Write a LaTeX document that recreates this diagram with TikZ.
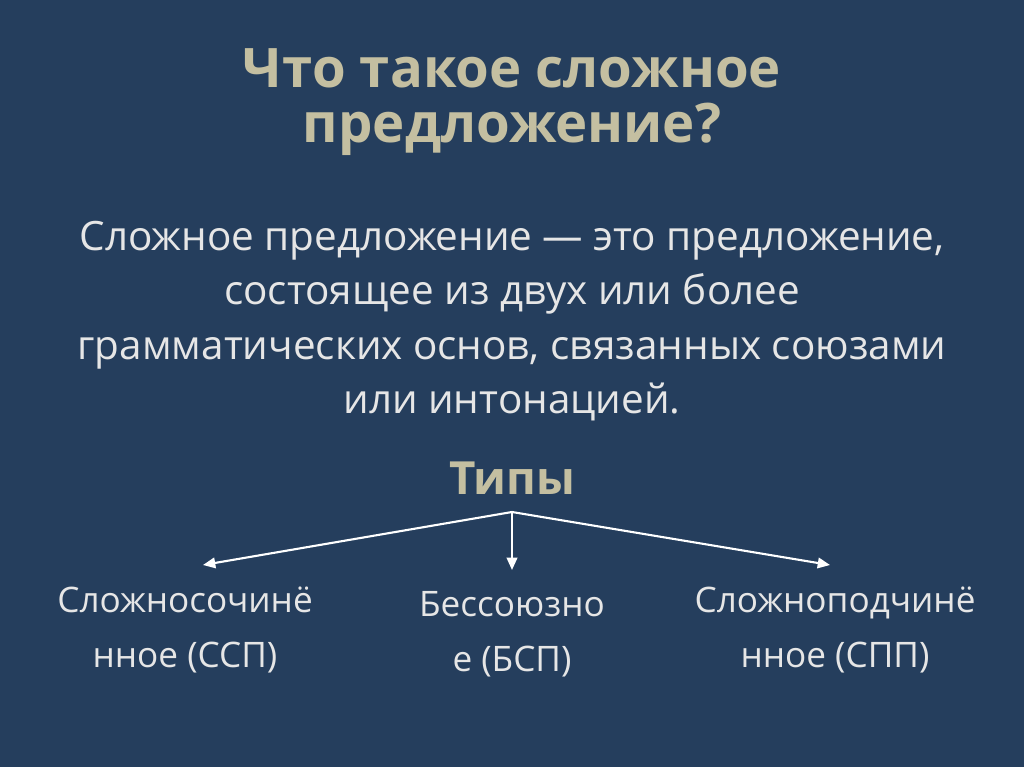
\documentclass[tikz,border=0pt]{standalone}
\usepackage{fontspec}
\setmainfont{Open Sans}
\usetikzlibrary{arrows.meta}
\definecolor{bg}{HTML}{253E5D}
\definecolor{ttl}{HTML}{C4BFA1}
\definecolor{txt}{HTML}{E6E6E6}
\tikzset{
  body/.style={text=txt,font=\fontsize{23}{31}\selectfont,align=center},
  low/.style={text=txt,font=\fontsize{20}{31}\selectfont,align=center},
  ttlstyle/.style={text=ttl,font=\fontsize{31}{31}\selectfont\bfseries,align=center},
  arr/.style={draw=white,line width=1.2pt,-{Triangle[length=7pt,width=6pt]}}
}
\begin{document}
\begin{tikzpicture}[x=0.02cm,y=-0.02cm]
\fill[bg] (0,0) rectangle (1024,767);
\useasboundingbox (0,0) rectangle (1024,767);
\node[ttlstyle] (title) at (512,102) {Что такое сложное\\предложение?};
\node[body] (def) at (512,321) {Сложное предложение — это предложение,\\состоящее из двух или более\\грамматических основ, связанных союзами\\или интонацией.};
\node[ttlstyle,font=\fontsize{26}{26}\selectfont\bfseries] (types) at (512,478) {Типы};
\coordinate (hub) at (512,512);
\node[low] (ssp) at (185,630) {Сложносочинё\\нное (ССП)};
\node[low] (bsp) at (512,634) {Бессоюзно\\е (БСП)};
\node[low] (spp) at (835,630) {Сложноподчинё\\нное (СПП)};
\coordinate (a1) at (203,565);
\coordinate (a2) at (512,570);
\coordinate (a3) at (830,565);
\draw[arr] (hub) -- (a1);
\draw[arr] (hub) -- (a2);
\draw[arr] (hub) -- (a3);
\end{tikzpicture}
\end{document}
